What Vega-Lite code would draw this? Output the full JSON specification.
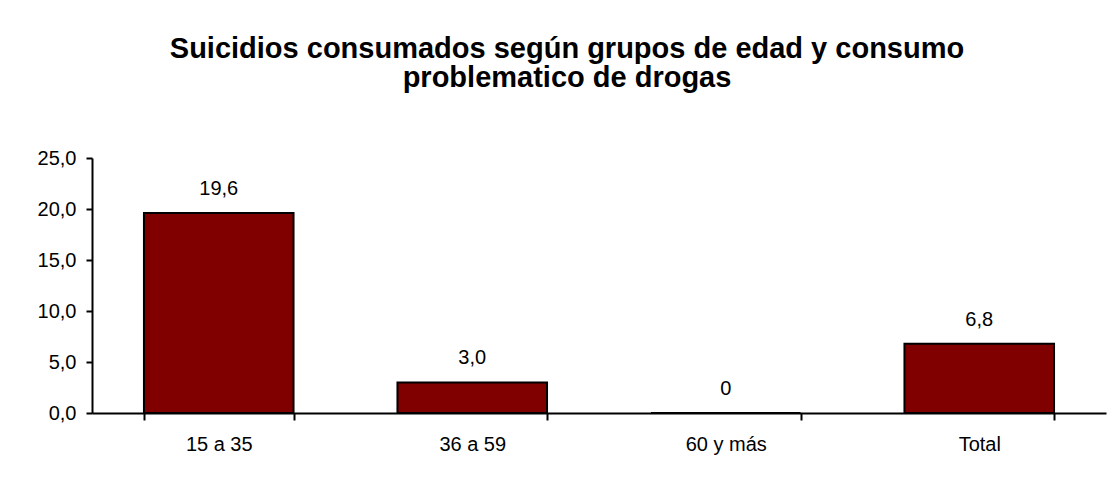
{
  "$schema": "https://vega.github.io/schema/vega-lite/v6.json",
  "width": 1014,
  "height": 255,
  "autosize": {"type": "none"},
  "padding": {"left": 92, "top": 158, "right": 4, "bottom": 66},
  "background": "white",
  "config": {
    "view": {"stroke": null},
    "font": "Liberation Sans"
  },
  "title": {
    "text": ["Suicidios consumados según grupos de edad y consumo", "problematico de drogas"],
    "font": "Liberation Sans",
    "fontSize": 29,
    "fontWeight": "bold",
    "color": "black",
    "anchor": "middle",
    "dx": -32,
    "lineHeight": 29,
    "offset": 55
  },
  "data": {
    "values": [
      {"grupo": "15 a 35", "valor": 19.6, "etiqueta": "19,6"},
      {"grupo": "36 a 59", "valor": 3.0, "etiqueta": "3,0"},
      {"grupo": "60 y más", "valor": 0, "etiqueta": "0"},
      {"grupo": "Total", "valor": 6.8, "etiqueta": "6,8"}
    ]
  },
  "encoding": {
    "x": {
      "field": "grupo",
      "type": "nominal",
      "sort": null,
      "title": null,
      "scale": {"paddingInner": 0.41, "paddingOuter": 0.205},
      "axis": {
        "labelAngle": 0,
        "labelFont": "Liberation Sans",
        "labelFontSize": 20,
        "labelColor": "black",
        "labelPadding": 14,
        "tickBand": "extent",
        "tickSize": 7,
        "tickWidth": 2,
        "tickColor": "black",
        "domainColor": "black",
        "domainWidth": 2,
        "grid": false
      }
    },
    "y": {
      "field": "valor",
      "type": "quantitative",
      "title": null,
      "scale": {"domain": [0, 25], "nice": false},
      "axis": {
        "values": [0, 5, 10, 15, 20, 25],
        "labelExpr": "replace(format(datum.value, '.1f'), '.', ',')",
        "labelFont": "Liberation Sans",
        "labelFontSize": 20,
        "labelColor": "black",
        "labelPadding": 10,
        "tickSize": 6,
        "tickWidth": 2,
        "tickColor": "black",
        "domainColor": "black",
        "domainWidth": 2,
        "grid": false
      }
    }
  },
  "layer": [
    {
      "mark": {"type": "bar", "color": "#800000", "stroke": "black", "strokeWidth": 2}
    },
    {
      "mark": {"type": "text", "font": "Liberation Sans", "fontSize": 20, "color": "black", "baseline": "alphabetic", "dy": -18},
      "encoding": {"text": {"field": "etiqueta"}}
    }
  ]
}
